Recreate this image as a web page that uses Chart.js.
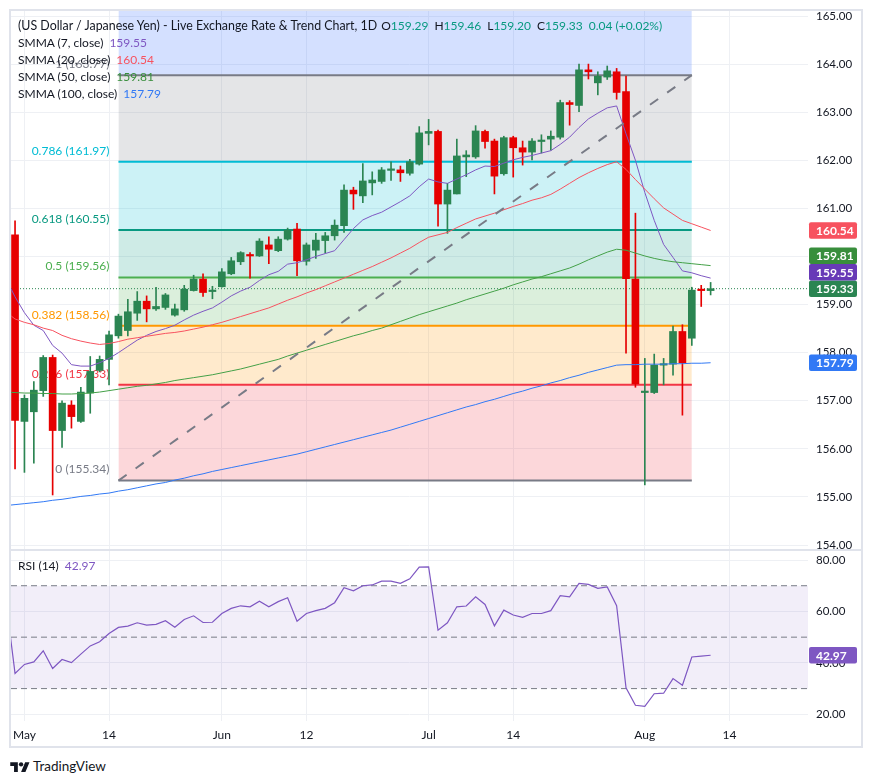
<!DOCTYPE html>
<html>
<head>
<meta charset="utf-8">
<title>US Dollar / Japanese Yen - 1D</title>
<script src="https://cdn.jsdelivr.net/npm/chart.js@4.4.1/dist/chart.umd.min.js"></script>
<style>
  html, body { margin:0; padding:0; background:#ffffff; }
  body { width:873px; height:784px; position:relative; overflow:hidden; font-family: Lato, "Noto Sans", sans-serif; color:#131722; }
  canvas { position:absolute; display:block; }
  #main { left:11px; top:11px; }
  #rsi { left:11px; top:551px; }
  #frame { position:absolute; left:9px; top:9px; width:850px; height:735px; border:2px solid #e0e3eb; pointer-events:none; }
  #sep { position:absolute; left:9px; top:549px; width:854px; height:2px; background:#e0e3eb; }
  .lg { position:absolute; left:18px; font-size:12px; line-height:17px; white-space:nowrap; color:#131722; }
  .v { margin-left:6px; }
  .g { color:#089981; }
  .k { margin-left:6px; }
  .ohlc { font-size:12px; }
  #tvtext { position:absolute; left:33px; top:757px; font-size:13.5px; line-height:18px; color:#131722; }
  #tvlogo { position:absolute; left:10px; top:760px; }
</style>
</head>
<body>
<canvas id="main" width="852" height="538"></canvas>
<canvas id="rsi" width="852" height="197"></canvas>
<div id="sep"></div>
<div id="frame"></div>

<div class="lg" style="top:16.5px;font-size:12.4px">(US Dollar / Japanese Yen) - Live Exchange Rate &amp; Trend Chart, 1D<span class="ohlc"><span style="margin-left:4px">O</span><span class="g">159.29</span><span class="k">H</span><span class="g">159.46</span><span class="k">L</span><span class="g">159.20</span><span class="k">C</span><span class="g">159.33</span><span class="k g">0.04 (+0.02%)</span></span></div>
<div class="lg" style="top:33.5px">SMMA (7, close)<span class="v" style="color:#7e57c2">159.55</span></div>
<div class="lg" style="top:50.5px">SMMA (20, close)<span class="v" style="color:#f7525f">160.54</span></div>
<div class="lg" style="top:67.5px">SMMA (50, close)<span class="v" style="color:#388e3c">159.81</span></div>
<div class="lg" style="top:84.5px">SMMA (100, close)<span class="v" style="color:#3179f5">157.79</span></div>
<div class="lg" style="top:556.5px">RSI (14)<span class="v" style="color:#7e57c2">42.97</span></div>

<svg id="tvlogo" width="20" height="13" viewBox="0 0 36 24"><path d="M14 22H7V11H0V4h14v18zM28 22h-8l7.5-18h8L28 22z" fill="#131722"/><circle cx="20" cy="8" r="4" fill="#131722"/></svg>
<div id="tvtext">TradingView</div>

<script>
// ---------------- DATA ----------------
const candleOpen = [160.45,156.57,156.77,157.21,157.90,156.38,156.91,156.57,157.16,157.63,
157.86,158.35,158.46,158.82,159.07,158.91,158.94,158.78,158.89,159.29,
159.53,159.27,159.37,159.64,159.89,160.04,160.01,160.24,160.12,160.36,
160.57,159.90,160.13,160.33,160.43,160.64,161.38,161.26,161.53,161.56,
161.79,161.80,161.73,161.92,162.56,162.60,161.09,161.30,162.07,162.07,
162.60,162.40,161.72,162.47,162.26,162.17,162.39,162.44,162.48,163.20,
163.14,163.88,163.61,163.73,163.84,163.43,159.53,157.17,157.17,157.74,
157.76,158.44,158.30,159.30,159.29];
const candleHigh = [160.74,157.12,157.40,157.94,157.95,157.00,157.00,157.28,157.92,157.93,
158.45,158.80,159.11,159.27,159.18,159.36,159.23,159.01,159.40,159.61,
159.64,159.38,159.75,159.98,160.10,160.08,160.37,160.41,160.41,160.59,
160.69,160.28,160.48,160.50,160.76,161.49,161.44,161.93,161.76,161.85,
161.97,161.88,162.02,162.70,162.85,162.63,161.52,162.44,162.20,162.72,
162.63,162.44,162.50,162.50,162.40,162.45,162.53,162.61,163.25,163.24,
164.00,164.00,163.84,163.96,163.91,163.75,160.90,157.88,157.97,157.88,
158.55,158.58,159.36,159.40,159.46];
const candleLow = [155.58,155.51,155.70,157.09,155.04,156.03,156.43,156.55,156.74,157.60,
157.33,158.30,158.35,158.67,158.64,158.88,158.90,158.76,158.86,159.28,
159.17,159.12,159.36,159.62,159.83,159.55,160.00,159.85,160.10,160.34,
159.60,159.82,159.96,160.07,160.34,160.50,160.98,161.12,161.28,161.52,
161.58,161.56,161.69,161.90,162.32,160.63,160.48,161.30,161.66,162.04,
162.25,161.30,161.69,161.65,161.90,162.01,162.15,162.21,162.44,162.73,
163.01,163.69,163.36,163.68,163.27,157.99,157.28,155.25,157.15,157.33,
157.53,156.70,158.15,158.96,159.20];
const candleClose = [156.59,157.05,157.22,157.90,156.38,156.95,156.67,157.18,157.61,157.86,
158.37,158.76,158.85,159.07,158.91,158.96,159.20,158.91,159.32,159.53,
159.25,159.29,159.68,159.91,160.08,160.01,160.32,160.15,160.36,160.55,
159.91,160.24,160.34,160.43,160.65,161.38,161.30,161.57,161.59,161.80,
161.80,161.74,161.97,162.57,162.60,161.09,161.38,162.09,162.11,162.61,
162.39,161.67,162.47,162.26,162.17,162.40,162.40,162.50,163.20,163.16,
163.88,163.84,163.75,163.86,163.41,159.54,157.35,157.19,157.74,157.77,
158.44,157.79,159.30,159.29,159.33];

// indicator series start one bar before the first visible candle (index -1)
const seriesStartIndex = -1;
const smma7 = [159.55,
159.16,158.83,158.57,158.46,158.15,157.99,157.75,157.72,157.72,157.79,
157.88,158.00,158.13,158.26,158.36,158.44,158.50,158.57,158.68,158.78,
158.86,158.93,159.05,159.18,159.28,159.36,159.50,159.62,159.69,159.84,
159.87,159.93,160.00,160.06,160.12,160.35,160.58,160.76,160.85,160.92,
161.03,161.14,161.26,161.45,161.61,161.55,161.52,161.61,161.70,161.80,
161.88,161.87,161.94,162.01,162.06,162.10,162.15,162.20,162.33,162.48,
162.68,162.86,162.98,163.09,163.13,162.55,162.00,161.33,160.75,160.25,
159.98,159.70,159.66,159.60,159.55];
const smma20 = [158.85,
158.70,158.63,158.58,158.51,158.46,158.36,158.29,158.24,158.20,158.17,
158.19,158.23,158.28,158.31,158.34,158.37,158.40,158.42,158.45,158.49,
158.53,158.58,158.63,158.69,158.75,158.81,158.87,158.93,159.01,159.09,
159.16,159.24,159.31,159.39,159.47,159.55,159.63,159.71,159.79,159.88,
159.97,160.07,160.17,160.29,160.40,160.45,160.50,160.60,160.69,160.78,
160.84,160.90,160.97,161.04,161.10,161.17,161.22,161.29,161.40,161.52,
161.64,161.74,161.83,161.91,161.97,161.81,161.60,161.40,161.20,161.01,
160.88,160.75,160.68,160.61,160.54];
const smma50 = [157.18,
157.17,157.16,157.16,157.15,157.15,157.14,157.14,157.15,157.16,157.18,
157.21,157.24,157.27,157.30,157.32,157.35,157.38,157.42,157.45,157.48,
157.51,157.54,157.58,157.62,157.66,157.71,157.76,157.81,157.86,157.93,
157.99,158.05,158.11,158.17,158.23,158.29,158.35,158.40,158.46,158.51,
158.58,158.65,158.72,158.79,158.85,158.91,158.97,159.03,159.10,159.16,
159.22,159.28,159.34,159.41,159.47,159.53,159.58,159.64,159.70,159.76,
159.84,159.93,160.01,160.09,160.15,160.13,160.07,160.01,159.96,159.92,
159.89,159.87,159.85,159.83,159.81];
const smma100 = [154.82,
154.84,154.86,154.88,154.90,154.93,154.95,154.98,155.01,155.03,155.06,
155.08,155.12,155.15,155.19,155.23,155.27,155.30,155.35,155.39,155.44,
155.48,155.53,155.57,155.61,155.65,155.69,155.73,155.77,155.81,155.85,
155.89,155.94,155.99,156.04,156.09,156.14,156.19,156.24,156.29,156.34,
156.39,156.45,156.51,156.57,156.63,156.69,156.75,156.81,156.87,156.92,
156.98,157.03,157.09,157.15,157.20,157.26,157.31,157.37,157.42,157.48,
157.53,157.59,157.64,157.69,157.74,157.75,157.75,157.76,157.76,157.76,
157.77,157.77,157.78,157.78,157.79];
const rsi14 = [65.0,
35.9,39.4,40.4,44.7,37.8,41.3,40.1,43.4,46.6,48.2,
51.4,53.8,54.3,55.6,54.7,55.0,56.4,53.9,56.9,58.3,
55.7,55.8,59.2,61.2,62.2,61.8,64.0,61.8,63.8,65.3,
56.2,59.2,60.3,61.2,63.4,69.2,68.0,70.0,70.3,71.8,
71.8,70.9,72.7,77.2,77.3,52.7,55.6,61.8,62.1,65.7,
62.7,54.4,60.5,58.6,57.7,59.2,59.2,60.3,66.1,65.7,
70.9,70.5,69.0,69.5,62.2,30.3,23.5,23.1,28.0,28.2,
33.9,31.3,42.3,42.6,42.97];

// Fibonacci retracement (drawn from bar 11 to bar 72)
const fibStartIndex = 11;
const fibEndIndex = 72;
const fibRatios = ['0','0.236','0.382','0.5','0.618','0.786','1','1.618'];
const fibPrices = [155.34,157.33,158.56,159.56,160.55,161.97,163.77,168.98];

// axis ticks
const timeTickIndex = [1,10,22,31,44,53,67,76];
const timeTickLabels = ['May','14','Jun','12','Jul','14','Aug','14'];
const priceTicks = [154,155,156,157,158,159,160,161,162,163,164,165];
const rsiTicks = [20,40,60,80];
const rsiLevels = [70,50,30];

// ---------------- STYLE ----------------
const UP = '#2b8552', DOWN = '#e60000';
const GRID = '#eef0f4';
const FONT = 'Lato, "Noto Sans", sans-serif';
const fibColors = ['#787b86','#f23645','#ff9800','#4caf50','#089981','#00bcd4','#787b86','#2962ff'];
const X_MIN = -0.43, X_MAX = 84.36;
const P_MIN = 153.917, P_MAX = 165.104;
const R_MIN = 17.40, R_MAX = 83.50;

function hexA(hex, a){ const n=parseInt(hex.slice(1),16); return `rgba(${n>>16&255},${n>>8&255},${n&255},${a})`; }
const series = arr => arr.map((v,k)=>({x:k+seriesStartIndex, y:v}));
const isUp = i => candleClose[i] >= candleOpen[i];
const lastIdx = candleClose.length - 1;
const noPad = s => { s.paddingTop=0; s.paddingBottom=0; s.paddingLeft=0; s.paddingRight=0; };

// ---------------- PLUGINS ----------------
function tagPlugin(getItems){
  return {
    id:'valueTags',
    afterDraw(chart){
      const {ctx, chartArea:a, scales:{y}} = chart;
      const h = 16.5;
      const items = getItems().map(t=>({...t, py:y.getPixelForValue(t.value)})).sort((p,q)=>q.py-p.py);
      for (let k=1;k<items.length;k++) items[k].py = Math.min(items[k].py, items[k-1].py - h);
      ctx.save();
      ctx.font = `bold 12px ${FONT}`; ctx.textBaseline='middle'; ctx.textAlign='left';
      items.forEach(t=>{
        ctx.fillStyle = t.color;
        ctx.beginPath(); ctx.roundRect(a.right+1, t.py-h/2, 48, h, 2); ctx.fill();
        ctx.fillStyle = '#ffffff';
        ctx.fillText(t.value.toFixed(2), a.right+8, t.py+0.5);
      });
      ctx.restore();
    }
  };
}
const fibLabelPlugin = {
  id:'fibLabels',
  beforeDatasetsDraw(chart){
    const {ctx, scales:{x,y}} = chart;
    ctx.save();
    ctx.font = `12px ${FONT}`; ctx.textAlign='right'; ctx.textBaseline='middle';
    const px = x.getPixelForValue(fibStartIndex) - 9;
    fibRatios.forEach((r,k)=>{
      if (fibPrices[k] > y.max) return;
      ctx.fillStyle = fibColors[k];
      ctx.fillText(`${r} (${fibPrices[k].toFixed(2)})`, px, y.getPixelForValue(fibPrices[k]) - 11);
    });
    ctx.restore();
  }
};

// ---------------- MAIN CHART ----------------
const fibSets = fibPrices.map((p,k)=>({
  type:'line', order:10,
  data:[{x:fibStartIndex,y:p},{x:fibEndIndex,y:p}],
  borderColor:fibColors[k], borderWidth:2, pointRadius:0,
  fill: k===0 ? false : '-1', backgroundColor: hexA(fibColors[k], 0.2)
}));
const smmaDefs = [[smma100,'#3179f5'],[smma50,'#43a047'],[smma20,'#f7525f'],[smma7,'#7e57c2']];
const smmaSets = smmaDefs.map(([arr,c])=>({
  type:'line', order:2, data:series(arr), borderColor:c, borderWidth:1, pointRadius:0, fill:false, tension:0, clip:0
}));
const trendSet = {
  type:'line', order:1,
  data:[{x:fibStartIndex,y:fibPrices[0]},{x:fibEndIndex,y:fibPrices[6]}],
  borderColor:'#787b86', borderWidth:2, borderDash:[10,11], pointRadius:0, fill:false
};
const lastSet = {
  type:'line', order:6,
  data:[{x:X_MIN,y:candleClose[lastIdx]},{x:X_MAX,y:candleClose[lastIdx]}],
  borderColor:UP, borderWidth:1, borderDash:[1,2], pointRadius:0, fill:false, clip:0
};
const wickSet = {
  type:'bar', order:4, grouped:false, barThickness:1, maxBarThickness:1,
  data:candleLow.map((l,i)=>({x:i, y:[l, candleHigh[i]]})),
  backgroundColor:ctx=>isUp(ctx.dataIndex)?UP:DOWN, borderWidth:0
};
const bodySet = {
  type:'bar', order:3, grouped:false, barThickness:7, maxBarThickness:7, minBarLength:1.5,
  data:candleOpen.map((o,i)=>({x:i, y:[o, candleClose[i]]})),
  backgroundColor:ctx=>isUp(ctx.dataIndex)?UP:DOWN, borderWidth:0
};

const xCommon = {
  type:'linear', min:X_MIN, max:X_MAX, offset:false,
  grid:{color:GRID, drawTicks:false, offset:false}, border:{display:false},
  afterBuildTicks:s=>{ s.ticks = timeTickIndex.map(v=>({value:v})); }
};

new Chart(document.getElementById('main'), {
  type:'line',
  data:{datasets:[...fibSets, trendSet, lastSet, ...smmaSets, bodySet, wickSet]},
  options:{
    responsive:false, animation:false, events:[],
    layout:{padding:0},
    plugins:{legend:{display:false}, tooltip:{enabled:false}},
    scales:{
      x:{...xCommon, ticks:{display:false}, afterFit:s=>{ s.height=0; noPad(s); }},
      y:{
        type:'linear', position:'right', min:P_MIN, max:P_MAX,
        grid:{color:GRID, drawTicks:false}, border:{display:false},
        ticks:{padding:8, color:'#131722', font:{family:FONT, size:11.5}, callback:v=>Number(v).toFixed(2)},
        afterBuildTicks:s=>{ s.ticks = priceTicks.map(v=>({value:v})); },
        afterFit:s=>{ s.width=55; noPad(s); }
      }
    }
  },
  plugins:[fibLabelPlugin, tagPlugin(()=>[
    {value:smma20[smma20.length-1], color:'#f7525f'},
    {value:smma50[smma50.length-1], color:'#388e3c'},
    {value:smma7[smma7.length-1], color:'#673ab7'},
    {value:candleClose[lastIdx], color:UP},
    {value:smma100[smma100.length-1], color:'#3179f5'}
  ])]
});

// ---------------- RSI CHART ----------------
const levelSets = rsiLevels.map((lv,k)=>({
  type:'line', order:5,
  data:[{x:X_MIN,y:lv},{x:X_MAX,y:lv}],
  borderColor:'#787b86', borderWidth:1, borderDash:[6,4], pointRadius:0,
  fill: k===rsiLevels.length-1 ? 1 : false, backgroundColor:'rgba(126,87,194,0.1)', clip:0
}));
new Chart(document.getElementById('rsi'), {
  type:'line',
  data:{datasets:[
    {type:'line', order:0, data:series(rsi14), borderColor:'#7e57c2', borderWidth:1.2, pointRadius:0, fill:false, tension:0, clip:0},
    ...levelSets
  ]},
  options:{
    responsive:false, animation:false, events:[],
    layout:{padding:0},
    plugins:{legend:{display:false}, tooltip:{enabled:false}},
    scales:{
      x:{...xCommon,
        ticks:{display:true, autoSkip:false, maxRotation:0, padding:7, color:'#131722', font:{family:FONT, size:12},
          callback:(v)=>{ const k=timeTickIndex.indexOf(v); return k>=0 ? timeTickLabels[k] : ''; }},
        afterFit:s=>{ s.height=27; noPad(s); }
      },
      y:{
        type:'linear', position:'right', min:R_MIN, max:R_MAX,
        grid:{color:GRID, drawTicks:false}, border:{display:false},
        ticks:{padding:8, color:'#131722', font:{family:FONT, size:11.5}, callback:v=>Number(v).toFixed(2)},
        afterBuildTicks:s=>{ s.ticks = rsiTicks.map(v=>({value:v})); },
        afterFit:s=>{ s.width=55; noPad(s); }
      }
    }
  },
  plugins:[tagPlugin(()=>[{value:rsi14[rsi14.length-1], color:'#7e57c2'}])]
});
</script>
</body>
</html>
